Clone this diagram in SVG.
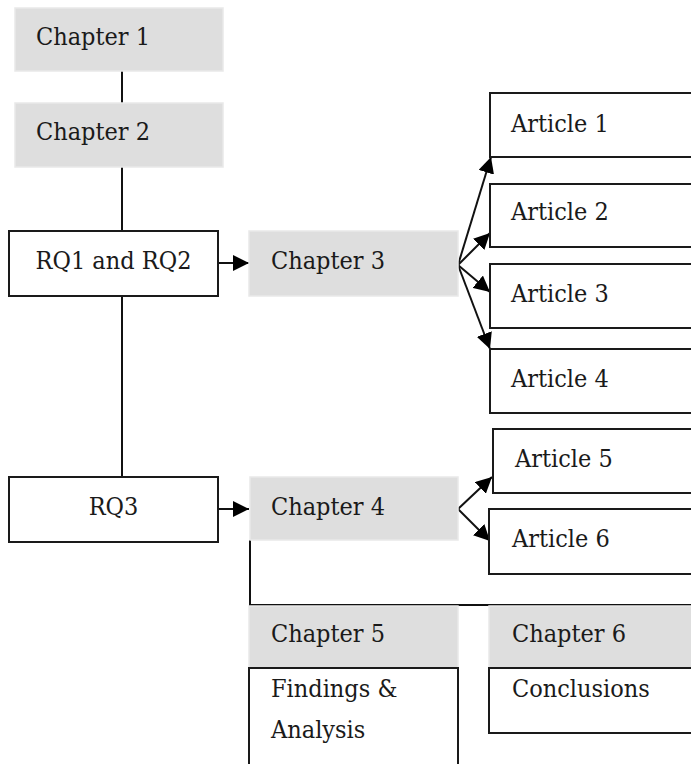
<svg xmlns="http://www.w3.org/2000/svg" width="691" height="764" viewBox="0 0 691 764">
<style>
.ch{fill:#dedede;stroke:#e9e9e9;stroke-width:1.5}
.bx{fill:#fff;stroke:#1a1a1a;stroke-width:2}
text{font-family:'DejaVu Serif Condensed','DejaVu Serif',serif;font-stretch:condensed;font-size:25px;fill:#1a1a1a}
.c{text-anchor:middle}
.ln{fill:none;stroke:#111;stroke-width:2}
</style>
<defs>
<marker id="ah" viewBox="0 0 15 15" refX="15" refY="7.5" markerWidth="16" markerHeight="16" markerUnits="userSpaceOnUse" orient="auto">
<path d="M0,0 L15,7.5 L0,15 z" fill="#000"/>
</marker>
</defs>
<g id="connectors">
<line class="ln" x1="122" y1="71" x2="122" y2="103"/>
<line class="ln" x1="122" y1="167" x2="122" y2="231"/>
<line class="ln" x1="122" y1="296" x2="122" y2="477"/>
<line class="ln" x1="218" y1="263" x2="249" y2="263" marker-end="url(#ah)"/>
<line class="ln" x1="218" y1="509" x2="249" y2="509" marker-end="url(#ah)"/>
<line class="ln" x1="458" y1="265" x2="491" y2="157" marker-end="url(#ah)"/>
<line class="ln" x1="458" y1="265" x2="490" y2="233" marker-end="url(#ah)"/>
<line class="ln" x1="458" y1="265" x2="490" y2="292" marker-end="url(#ah)"/>
<line class="ln" x1="458" y1="265" x2="490" y2="349" marker-end="url(#ah)"/>
<line class="ln" x1="458" y1="509" x2="492" y2="477" marker-end="url(#ah)"/>
<line class="ln" x1="458" y1="509" x2="490" y2="541" marker-end="url(#ah)"/>
<polyline class="ln" points="250,540 250,605 700,605"/>
</g>
<g id="chapter1"><rect class="ch" x="15" y="8" width="208" height="63"/><text x="36" y="45">Chapter 1</text></g>
<g id="chapter2"><rect class="ch" x="15" y="103" width="208" height="64"/><text x="36" y="140">Chapter 2</text></g>
<g id="rq12"><rect class="bx" x="9" y="231" width="209" height="65"/><text class="c" x="113.5" y="269">RQ1 and RQ2</text></g>
<g id="chapter3"><rect class="ch" x="249" y="231" width="209" height="65"/><text x="271" y="269">Chapter 3</text></g>
<g id="article1"><rect class="bx" x="490" y="93" width="220" height="64"/><text x="511" y="132">Article 1</text></g>
<g id="article2"><rect class="bx" x="490" y="184" width="220" height="63"/><text x="511" y="220">Article 2</text></g>
<g id="article3"><rect class="bx" x="490" y="264" width="220" height="64"/><text x="511" y="302">Article 3</text></g>
<g id="article4"><rect class="bx" x="490" y="349" width="220" height="64"/><text x="511" y="387">Article 4</text></g>
<g id="rq3"><rect class="bx" x="9" y="477" width="209" height="65"/><text class="c" x="113.5" y="515">RQ3</text></g>
<g id="chapter4"><rect class="ch" x="250" y="477" width="208" height="63"/><text x="271" y="515">Chapter 4</text></g>
<g id="article5"><rect class="bx" x="493" y="429" width="220" height="64"/><text x="515" y="467">Article 5</text></g>
<g id="article6"><rect class="bx" x="489" y="509" width="220" height="65"/><text x="512" y="547">Article 6</text></g>
<g id="chapter5"><rect class="ch" x="249" y="606" width="209" height="62"/><text x="271" y="642">Chapter 5</text></g>
<g id="findings"><rect class="bx" x="249" y="668" width="209" height="110"/><text x="271" y="697">Findings &amp;</text><text x="271" y="738">Analysis</text></g>
<g id="chapter6"><rect class="ch" x="489" y="606" width="220" height="62"/><text x="512" y="642">Chapter 6</text></g>
<g id="conclusions"><rect class="bx" x="489" y="668" width="220" height="65"/><text x="512" y="697">Conclusions</text></g>
</svg>
